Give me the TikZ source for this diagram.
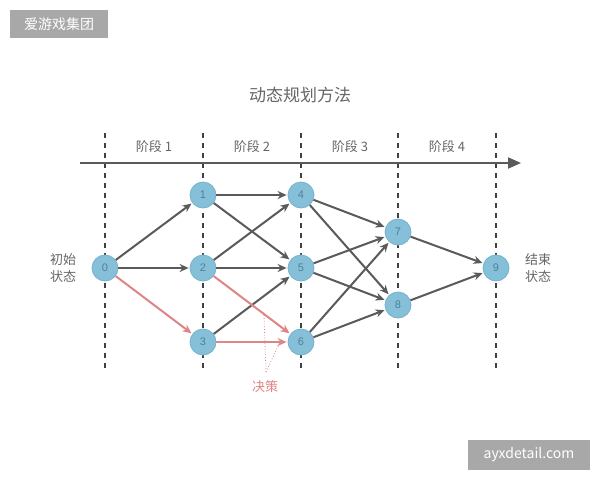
\documentclass[tikz,border=0pt]{standalone}
\usepackage{fontspec}
\setmainfont{Liberation Sans}
\newfontfamily\cjk{Noto Sans CJK SC}
\usetikzlibrary{arrows.meta}
\definecolor{nodeblue}{HTML}{86C0D8}
\definecolor{nodeedge}{HTML}{74B2CE}
\definecolor{nodetext}{HTML}{4F7F9C}
\definecolor{edgegray}{HTML}{5A5A5A}
\definecolor{decred}{HTML}{E08585}
\definecolor{textgray}{HTML}{666666}
\definecolor{markgray}{HTML}{A8A8A8}
\tikzset{
  state/.style={circle,fill=nodeblue,draw=nodeedge,line width=0.8pt,
    minimum size=26pt,inner sep=0pt,text=nodetext,
    font=\fontsize{11}{13}\selectfont},
  move/.style={edgegray,line width=2pt,-{Stealth[length=9pt,width=8pt]},shorten >=1pt},
  pick/.style={decred,line width=2pt,-{Stealth[length=9pt,width=8pt]},shorten >=1pt},
  stageline/.style={black!75,line width=1.5pt,dash pattern=on 5pt off 5pt},
  label/.style={text=textgray,font=\cjk\fontsize{13}{17}\selectfont,align=center},
  stamp/.style={fill=markgray,text=white,inner sep=0pt,
    font=\cjk\fontsize{14}{16}\selectfont}
}
\begin{document}
\begin{tikzpicture}[x=1pt,y=-1pt]
  % Page: 600 x 480, y grows downwards.
  \useasboundingbox[fill=white] (0,0) rectangle (600,480);

  % Watermarks.
  \node[stamp,minimum width=98pt,minimum height=28pt] (mark1) at (59,24) {爱游戏集团};
  \node[stamp,minimum width=122pt,minimum height=30pt] (mark2) at (529,455) {ayxdetail.com};

  \node[label,font=\cjk\fontsize{17}{20}\selectfont] (title) at (300,95) {动态规划方法};

  % Stage boundaries.
  \foreach \x in {105,203,301,398,496}{
    \draw[stageline] (\x,133) -- (\x,372);
  }
  \coordinate (t0) at (80,163);
  \coordinate (t1) at (521,163);
  \draw[edgegray,line width=2pt,-{Triangle[length=13pt,width=11pt]}] (t0) -- (t1);
  \foreach \k/\x in {1/154,2/252,3/350,4/447}{
    \node[label] (s\k) at (\x,147) {阶段 \k};
  }

  % States.
  \node[state] (n0) at (105,268) {0};
  \node[state] (n1) at (203,195) {1};
  \node[state] (n2) at (203,268) {2};
  \node[state] (n3) at (203,342) {3};
  \node[state] (n4) at (301,195) {4};
  \node[state] (n5) at (301,268) {5};
  \node[state] (n6) at (301,342) {6};
  \node[state] (n7) at (398,232) {7};
  \node[state] (n8) at (398,305) {8};
  \node[state] (n9) at (496,268) {9};

  \node[label] (start) at (63,268) {初始\\状态};
  \node[label] (end) at (538,268) {结束\\状态};

  % Transitions.
  \foreach \a/\b in {0/1,0/2,1/4,1/5,2/4,2/5,3/5,4/7,4/8,5/7,5/8,6/7,6/8,7/9,8/9}{
    \draw[move] (n\a) -- (n\b);
  }
  % Chosen decisions.
  \foreach \a/\b in {0/3,2/6,3/6}{
    \draw[pick] (n\a) -- (n\b);
  }

  % Decision label.
  \node[label,text=decred] (dec) at (265,387) {决策};
  \coordinate (d0) at (266,372);
  \draw[decred,line width=0.8pt,dotted] (d0) -- (264,315);
  \draw[decred,line width=0.8pt,dotted] (d0) -- (280,342);
\end{tikzpicture}
\end{document}
